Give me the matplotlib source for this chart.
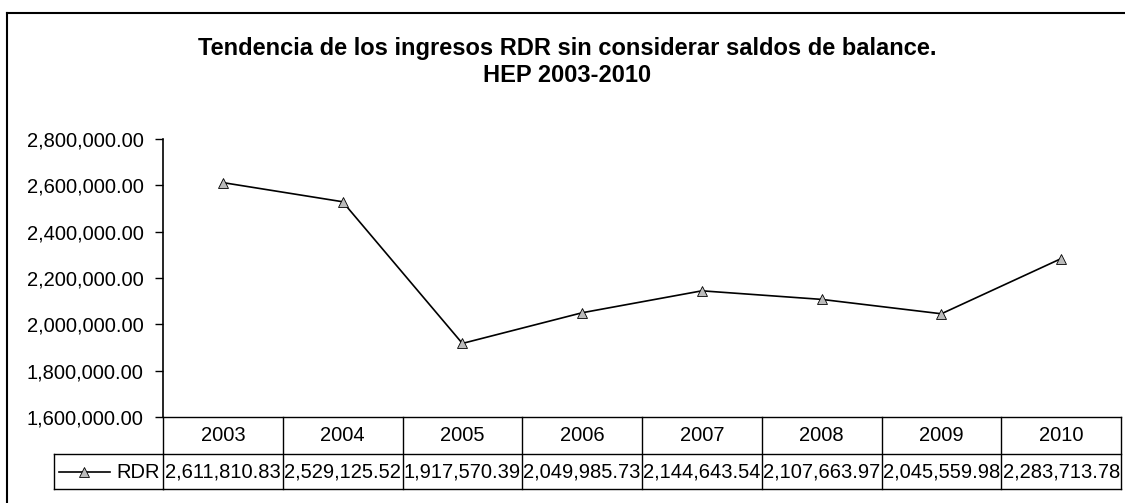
import matplotlib.pyplot as plt
from matplotlib.transforms import blended_transform_factory

years = ["2003", "2004", "2005", "2006", "2007", "2008", "2009", "2010"]
rdr = [2611810.83, 2529125.52, 1917570.39, 2049985.73,
       2144643.54, 2107663.97, 2045559.98, 2283713.78]
y_ticks = [1600000, 1800000, 2000000, 2200000, 2400000, 2600000, 2800000]

plt.rcParams['font.family'] = ['Liberation Sans', 'DejaVu Sans']

W, H = 1125, 503
fig = plt.figure(figsize=(W / 100, H / 100), dpi=100)
fig.patch.set_facecolor('white')

def fline(xs, ys, **kw):
    # line in pixel coords of the figure (y from top)
    fig.lines.append(plt.Line2D([v / W for v in xs], [1 - v / H for v in ys],
                                transform=fig.transFigure, **kw))

# outer chart frame (only top and left edges are visible)
fline([7, 1125], [13, 13], color='black', lw=1.5)
fline([7, 7], [13, 502], color='black', lw=1.5)

left, right, top, bottom = 163, 1121, 139, 417
ax = fig.add_axes([left / W, 1 - bottom / H, (right - left) / W, (bottom - top) / H])

x = list(range(len(years)))
ax.plot(x, rdr, color='black', linewidth=1.2, marker='^', markersize=7,
        markerfacecolor='#bbbbbb', markeredgecolor='black', markeredgewidth=0.6)

ax.set_xlim(-0.5, len(years) - 0.5)
ax.set_ylim(y_ticks[0], y_ticks[-1])
ax.set_yticks(y_ticks)
ax.set_yticklabels([f"{v:,.2f}" for v in y_ticks], fontsize=14.5)
ax.tick_params(axis='y', direction='out', length=6, width=1, pad=8)
ax.set_xticks([])
for s in ['top', 'right', 'bottom']:
    ax.spines[s].set_visible(False)
ax.spines['left'].set_linewidth(1.2)

fig.text(567 / W, 1 - 48 / H,
         "Tendencia de los ingresos RDR sin considerar saldos de balance.",
         ha='center', va='center', fontsize=17, fontweight='bold')
fig.text(567 / W, 1 - 75 / H, "HEP 2003-2010",
         ha='center', va='center', fontsize=17, fontweight='bold')

# data table below the axis
tr = blended_transform_factory(ax.transData, ax.transAxes)
ph = bottom - top
r1 = -37 / ph
r2 = -72 / ph
xl, xr = -0.5, len(years) - 0.5
lw = 1.0
for yy in [0, r1, r2]:
    ax.plot([xl, xr], [yy, yy], color='black', lw=lw, transform=tr, clip_on=False)
for i in range(len(years) + 1):
    ax.plot([i - 0.5, i - 0.5], [0, r2], color='black', lw=lw, transform=tr, clip_on=False)
for i, (yr, v) in enumerate(zip(years, rdr)):
    ax.text(i, r1 / 2, yr, ha='center', va='center', fontsize=14.5, transform=tr)
    ax.text(i, (r1 + r2) / 2, f"{v:,.2f}", ha='center', va='center', fontsize=14.5,
            transform=tr)

# legend cell at the left of the data row
fline([54, left], [454, 454], color='black', lw=lw)
fline([54, left], [489, 489], color='black', lw=lw)
fline([54, 54], [454, 489], color='black', lw=lw)
fline([59, 110], [472, 472], color='black', lw=1.2)
fline([84], [472], marker='^', markersize=7, markerfacecolor='#bbbbbb',
      markeredgecolor='black', markeredgewidth=0.6)
fig.text(116 / W, 1 - 472 / H, "RDR", ha='left', va='center', fontsize=14.5)

fig.savefig("out.png", dpi=100, facecolor='white')
